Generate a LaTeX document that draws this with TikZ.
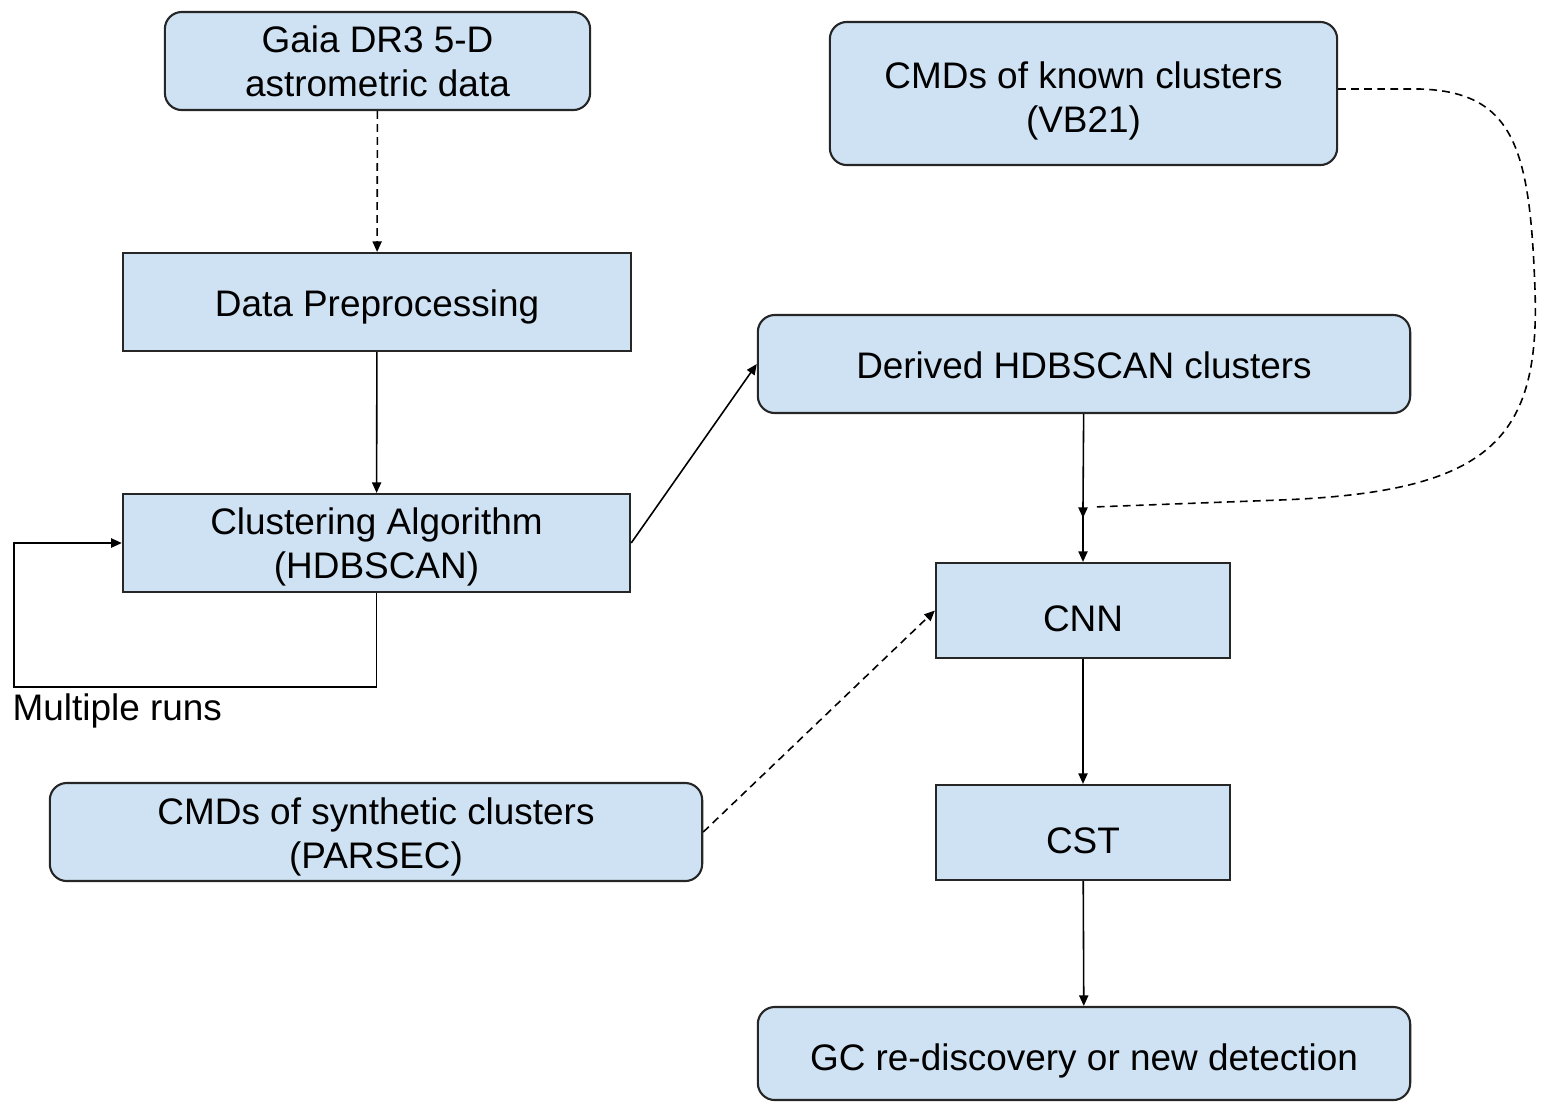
\documentclass[tikz,border=0pt]{standalone}
\usepackage{fontspec}
\setmainfont{Liberation Sans}
\usetikzlibrary{arrows.meta}
\definecolor{boxblue}{HTML}{CFE2F3}
\newcommand\tstrut[1]{\rule{0pt}{#1}}
\begin{document}
\begin{tikzpicture}[x=0.01cm,y=-0.01cm,
  box/.style={draw=black!85, line width=0.6pt, fill=boxblue, align=center,
    font=\fontsize{10.5pt}{12.5pt}\selectfont, inner sep=0pt},
  rbox/.style={box, rounded corners=0.17cm},
  arr/.style={line width=0.45pt, -{Triangle[length=3pt,width=2.6pt]}},
  darr/.style={arr, dash pattern=on 2.2pt off 1.5pt},
  lbl/.style={font=\fontsize{10.5pt}{12.5pt}\selectfont, inner sep=0pt}
]
\useasboundingbox (0,0) rectangle (1542,1102);
\node[rbox, minimum width=4.25cm, minimum height=0.98cm] (gaia) at (377.5,61) {Gaia DR3 5-D\\astrometric data};
\node[box, minimum width=5.08cm, minimum height=0.98cm] (prep) at (377,302) {\tstrut{10.4pt}Data Preprocessing};
\node[box, minimum width=5.07cm, minimum height=0.98cm] (clus) at (376.5,543) {\tstrut{9.9pt}Clustering Algorithm\\(HDBSCAN)};
\node[rbox, minimum width=6.52cm, minimum height=0.98cm] (synth) at (376,832) {\tstrut{10.2pt}CMDs of synthetic clusters\\(PARSEC)};
\node[rbox, minimum width=5.07cm, minimum height=1.43cm] (known) at (1083.5,93.5) {\tstrut{11.9pt}CMDs of known clusters\\(VB21)};
\node[rbox, minimum width=6.52cm, minimum height=0.98cm] (derived) at (1084,364) {\tstrut{8.2pt}Derived HDBSCAN clusters};
\node[box, minimum width=2.94cm, minimum height=0.95cm] (cnn) at (1083,610.5) {\tstrut{12.2pt}CNN};
\node[box, minimum width=2.94cm, minimum height=0.95cm] (cst) at (1083,832.5) {\tstrut{12.2pt}CST};
\node[rbox, minimum width=6.52cm, minimum height=0.93cm] (gc) at (1084,1053.5) {\tstrut{11.6pt}GC re-discovery or new detection};
\node[lbl, anchor=west] (mr) at (12,711) {Multiple runs};

\coordinate (lc) at (14,687);
\coordinate (mg) at (1083,506);

\draw[darr] (gaia) -- (prep);
\draw[arr] (prep) -- (clus);
\draw[arr] (clus.south) |- (lc) |- (clus.west);
\draw[arr] (clus.east) -- (derived.west);
\draw[darr] (synth.east) -- (cnn.west);
\draw[arr] (derived) -- (mg) -- (cnn);
\draw[line width=0.45pt, dash pattern=on 2.2pt off 1.5pt] (known.east |- 0,89) -- (1420,89)
  .. controls (1515,92) and (1530,150) .. (1535,290)
  .. controls (1540,440) and (1490,492) .. (1280,500) -- (1093,507);
\draw[arr] (1083,503) -- (mg |- 0,518);
\draw[arr] (cnn) -- (cst);
\draw[arr] (cst) -- (gc);
\end{tikzpicture}
\end{document}
